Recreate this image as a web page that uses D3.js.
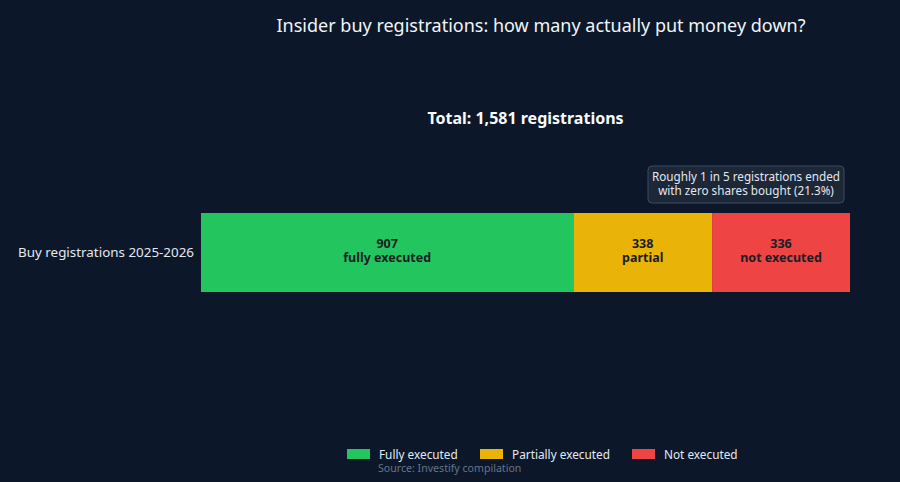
<!DOCTYPE html>
<html>
<head>
<meta charset="utf-8">
<script src="https://cdn.jsdelivr.net/npm/d3@7"></script>
<style>
  html, body { margin: 0; padding: 0; background: #0c1829; }
  svg { display: block; font-family: "Noto Sans", "Open Sans", sans-serif; }
</style>
</head>
<body>
<svg id="chart" width="900" height="482"></svg>
<script>
// data
const rowLabel = "Buy registrations 2025-2026";
const segments = ["Fully executed", "Partially executed", "Not executed"];
const segmentValues = [907, 338, 336];
const segmentShort = ["fully executed", "partial", "not executed"];
const segmentColors = ["#22c55e", "#eab308", "#ef4444"];

const W = 900, H = 482;
const margin = {left: 201, right: 50, top: 213, bottom: 190};

const svg = d3.select("#chart");
svg.append("rect").attr("width", W).attr("height", H).attr("fill", "#0c1829");

const total = d3.sum(segmentValues);
const x = d3.scaleLinear().domain([0, total]).range([margin.left, W - margin.right]);
const y = d3.scaleBand().domain([rowLabel]).range([213, 292]);

// stack
let acc = 0;
const data = segmentValues.map((v, i) => {
  const d = {key: segments[i], short: segmentShort[i], value: v, x0: acc, x1: acc + v, color: segmentColors[i]};
  acc += v;
  return d;
});

svg.append("text")
  .attr("x", 541).attr("y", 32)
  .attr("text-anchor", "middle")
  .attr("fill", "#f1f5f9")
  .attr("font-size", 18)
  .text("Insider buy registrations: how many actually put money down?");

svg.append("text")
  .attr("x", (x(0) + x(total)) / 2).attr("y", 124)
  .attr("text-anchor", "middle")
  .attr("fill", "#f8fafc")
  .attr("font-size", 16)
  .attr("font-weight", "bold")
  .text("Total: " + d3.format(",")(total) + " registrations");

const g = svg.append("g");
g.selectAll("rect.seg")
  .data(data)
  .enter()
  .append("rect")
  .attr("class", "seg")
  .attr("x", d => x(d.x0))
  .attr("y", y(rowLabel))
  .attr("width", d => x(d.x1) - x(d.x0))
  .attr("height", y.bandwidth())
  .attr("fill", d => d.color);

// two separate lines per segment
const midY = y(rowLabel) + y.bandwidth() / 2;
[[d => d.value, -5], [d => d.short, 9]].forEach(([fn, dy]) => {
  g.selectAll(null)
    .data(data)
    .enter()
    .append("text")
    .attr("x", d => (x(d.x0) + x(d.x1)) / 2)
    .attr("y", midY + dy)
    .attr("text-anchor", "middle")
    .attr("fill", "#1a1d24")
    .attr("font-size", 12.5)
    .attr("font-weight", "bold")
    .text(fn);
});

// y axis label
const yAxis = d3.axisLeft(y).tickSize(0).tickPadding(7);
const ya = svg.append("g").attr("transform", `translate(${margin.left},0)`).call(yAxis);
ya.select(".domain").remove();
ya.selectAll("text").attr("fill", "#e2e8f0").attr("font-size", 13.4).attr("font-family", "Noto Sans, sans-serif");

// annotation
const pct = d3.format(".1%")(segmentValues[2] / total);
const ann = svg.append("g").attr("transform", `translate(${746},${184})`);
ann.append("rect")
  .attr("x", -98).attr("y", -18).attr("width", 196).attr("height", 37).attr("rx", 4)
  .attr("fill", "#1c2738").attr("stroke", "#3f4b5c").attr("stroke-width", 1);
ann.append("text").attr("x", 0).attr("y", -3)
  .attr("text-anchor", "middle").attr("fill", "#e2e8f0").attr("font-size", 11.7)
  .text("Roughly 1 in 5 registrations ended");
ann.append("text").attr("x", 0).attr("y", 11)
  .attr("text-anchor", "middle").attr("fill", "#e2e8f0").attr("font-size", 11.7)
  .text("with zero shares bought (" + pct + ")");

// legend
const legendX = [347, 480, 632];
const leg = svg.append("g").selectAll("g")
  .data(data).enter().append("g")
  .attr("transform", (d, i) => `translate(${legendX[i]},${454})`);
leg.append("rect").attr("x", 0).attr("y", -5).attr("width", 23).attr("height", 10).attr("fill", d => d.color);
leg.append("text").attr("x", 32).attr("y", 4.5).attr("fill", "#e2e8f0").attr("font-size", 11.8).text(d => d.key);

svg.append("text")
  .attr("x", 378).attr("y", 472)
  .attr("fill", "#64748b")
  .attr("font-size", 10.6)
  .text("Source: Investify compilation");
</script>
</body>
</html>
